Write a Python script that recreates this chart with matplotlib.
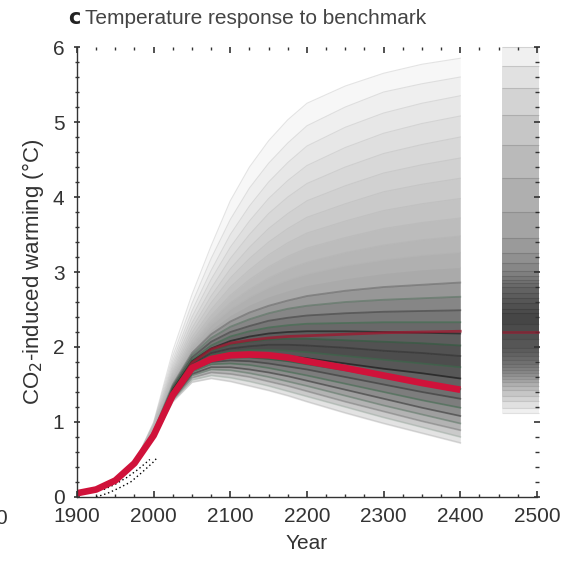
import matplotlib
matplotlib.use("Agg")
import matplotlib.pyplot as plt
from matplotlib.ticker import MultipleLocator

plt.rcParams['font.family'] = ['Liberation Sans', 'DejaVu Sans']

# ---- data -------------------------------------------------------------
# shared historical part of every run
hist_years = [1900, 1925, 1950, 1975]
hist_warming = [0.05, 0.10, 0.22, 0.45]

# projection years for each ensemble member
proj_years = [2000, 2025, 2050, 2075, 2100, 2125, 2150, 2175, 2200,
              2250, 2300, 2350, 2400]

# high-sensitivity members (faint part of the fan)
high_members = [
    [1.00, 1.95, 2.70, 3.35, 3.95, 4.40, 4.75, 5.03, 5.25, 5.48, 5.65, 5.77, 5.85],
    [0.99, 1.88, 2.58, 3.18, 3.70, 4.12, 4.45, 4.72, 4.95, 5.20, 5.40, 5.51, 5.60],
    [0.98, 1.82, 2.48, 3.02, 3.50, 3.88, 4.20, 4.46, 4.68, 4.93, 5.12, 5.25, 5.35],
    [0.97, 1.77, 2.40, 2.90, 3.33, 3.68, 3.98, 4.22, 4.42, 4.66, 4.85, 4.98, 5.08],
    [0.96, 1.73, 2.32, 2.78, 3.18, 3.50, 3.78, 4.00, 4.18, 4.40, 4.58, 4.70, 4.80],
    [0.95, 1.69, 2.25, 2.68, 3.04, 3.33, 3.58, 3.78, 3.95, 4.15, 4.32, 4.43, 4.52],
    [0.94, 1.66, 2.19, 2.59, 2.92, 3.18, 3.40, 3.58, 3.73, 3.91, 4.07, 4.17, 4.25],
    [0.93, 1.63, 2.13, 2.50, 2.80, 3.03, 3.23, 3.39, 3.52, 3.68, 3.82, 3.91, 3.98],
    [0.92, 1.60, 2.08, 2.42, 2.69, 2.90, 3.07, 3.21, 3.32, 3.46, 3.58, 3.66, 3.72],
    [0.91, 1.57, 2.03, 2.35, 2.59, 2.77, 2.92, 3.04, 3.13, 3.26, 3.36, 3.43, 3.48],
    [0.90, 1.55, 1.99, 2.29, 2.50, 2.66, 2.79, 2.89, 2.97, 3.08, 3.16, 3.22, 3.26],
    [0.89, 1.52, 1.95, 2.23, 2.42, 2.56, 2.67, 2.75, 2.82, 2.91, 2.98, 3.03, 3.06],
]

# central members (dense dark core of the fan)
core_members = [
    [0.88, 1.50, 1.92, 2.17, 2.34, 2.46, 2.55, 2.62, 2.68, 2.75, 2.80, 2.83, 2.86],
    [0.87, 1.48, 1.89, 2.12, 2.27, 2.37, 2.45, 2.51, 2.55, 2.60, 2.63, 2.65, 2.67],
    [0.86, 1.46, 1.86, 2.07, 2.20, 2.28, 2.35, 2.39, 2.42, 2.45, 2.47, 2.48, 2.49],
    [0.85, 1.44, 1.83, 2.02, 2.14, 2.21, 2.26, 2.29, 2.31, 2.32, 2.33, 2.33, 2.33],
    [0.85, 1.43, 1.81, 1.98, 2.08, 2.14, 2.18, 2.20, 2.21, 2.21, 2.20, 2.19, 2.18],
    [0.84, 1.41, 1.79, 1.95, 2.03, 2.07, 2.10, 2.11, 2.11, 2.09, 2.07, 2.05, 2.02],
    [0.84, 1.40, 1.77, 1.92, 1.98, 2.01, 2.03, 2.03, 2.02, 1.99, 1.95, 1.92, 1.88],
    [0.83, 1.39, 1.75, 1.89, 1.94, 1.96, 1.96, 1.95, 1.93, 1.88, 1.83, 1.78, 1.73],
    [0.82, 1.37, 1.73, 1.86, 1.90, 1.91, 1.90, 1.88, 1.85, 1.78, 1.71, 1.65, 1.58],
    [0.82, 1.36, 1.71, 1.83, 1.86, 1.86, 1.84, 1.81, 1.77, 1.69, 1.60, 1.52, 1.44],
    [0.81, 1.35, 1.69, 1.80, 1.82, 1.81, 1.78, 1.74, 1.70, 1.60, 1.50, 1.40, 1.31],
    [0.81, 1.34, 1.67, 1.77, 1.78, 1.76, 1.72, 1.67, 1.62, 1.51, 1.40, 1.29, 1.19],
    [0.80, 1.32, 1.64, 1.73, 1.73, 1.70, 1.66, 1.61, 1.55, 1.43, 1.31, 1.19, 1.08],
    [0.80, 1.31, 1.62, 1.70, 1.69, 1.65, 1.60, 1.54, 1.48, 1.35, 1.22, 1.10, 0.98],
    [0.79, 1.30, 1.59, 1.66, 1.64, 1.60, 1.54, 1.48, 1.41, 1.27, 1.14, 1.01, 0.89],
    [0.79, 1.29, 1.56, 1.62, 1.59, 1.54, 1.48, 1.41, 1.34, 1.20, 1.06, 0.93, 0.80],
    [0.78, 1.27, 1.53, 1.58, 1.54, 1.48, 1.42, 1.35, 1.27, 1.12, 0.98, 0.85, 0.72],
]
median_index = 6   # core member used as the ensemble centre

# benchmark run and an alternative best-fit run
benchmark = [0.82, 1.36, 1.72, 1.84, 1.89, 1.90, 1.89, 1.86, 1.81,
             1.72, 1.62, 1.52, 1.43]
alt_run = [0.83, 1.38, 1.79, 1.97, 2.05, 2.09, 2.12, 2.14, 2.15,
           2.17, 2.19, 2.20, 2.21]

# observation-based estimates (dotted)
obs_years = [1925, 1940, 1955, 1970, 1985, 2000, 2005]
obs_a = [0.00, 0.05, 0.12, 0.20, 0.33, 0.47, 0.53]
obs_b_years = [1935, 1950, 1965, 1980, 1995]
obs_b = [0.10, 0.17, 0.26, 0.37, 0.50]

# equilibrium warming of the ensemble (side strip)
eq_upper = [6.0, 5.75, 5.45, 5.1, 4.7, 4.25, 3.8, 3.45, 3.25, 3.12, 3.02,
            2.95, 2.9, 2.85, 2.8, 2.72, 2.65, 2.58, 2.5, 2.45]
eq_lower = [1.12, 1.18, 1.28, 1.35, 1.42, 1.48, 1.53, 1.57, 1.61, 1.65,
            1.69, 1.73, 1.77, 1.83, 1.88, 1.93, 1.98, 2.1, 2.2, 2.3]
eq_centre = 2.4
eq_alt = 2.2
strip_years = [2455, 2503]

x_ticks = [1900, 2000, 2100, 2200, 2300, 2400, 2500]
y_ticks = [0, 1, 2, 3, 4, 5, 6]

# ---- figure -----------------------------------------------------------
fig = plt.figure(figsize=(5.78, 5.61), dpi=100)
ax = fig.add_axes([0.1332, 0.1141, 0.7958, 0.8021])

years = hist_years + proj_years


def full(member):
    return hist_warming + list(member)


centre = full(core_members[median_index])

# soft density shading: each member filled toward the ensemble centre
for m in high_members:
    ax.fill_between(years, full(m), centre, color='k', alpha=0.03, lw=0)
for m in core_members:
    ax.fill_between(years, full(m), centre, color='k', alpha=0.11, lw=0)

# individual member lines, fading toward the edges of the core
for m in high_members:
    ax.plot(years, full(m), color='#b0b0b0', lw=0.8, alpha=0.35,
            solid_joinstyle='round')
core_colors = ['#111111', '#2d5a3c', '#333333', '#3b6b4b']
core_alpha = [0.25, 0.35, 0.5, 0.6, 0.6, 0.6, 0.6, 0.6, 0.6,
              0.6, 0.55, 0.5, 0.4, 0.3, 0.22, 0.15, 0.1]
for i, m in enumerate(core_members):
    ax.plot(years, full(m), color=core_colors[i % 4], lw=1.3,
            alpha=core_alpha[i], solid_joinstyle='round')

# observations
ax.plot(obs_years, obs_a, color='k', lw=1.0, ls=(0, (1, 2)))
ax.plot(obs_b_years, obs_b, color='k', lw=1.0, ls=(0, (1, 2)))

# highlighted runs
ax.plot(years, full(alt_run), color='#a0162e', lw=2.0, alpha=0.75,
        solid_joinstyle='round')
ax.plot(years, full(benchmark), color='#d0123a', lw=4.8,
        solid_capstyle='butt', solid_joinstyle='round')

# equilibrium strip
for v in eq_upper:
    ax.fill_between(strip_years, [v, v], [eq_centre, eq_centre],
                    color='k', alpha=0.06, lw=0, clip_on=False)
for v in eq_lower:
    ax.fill_between(strip_years, [v, v], [eq_centre, eq_centre],
                    color='k', alpha=0.06, lw=0, clip_on=False)
ax.hlines(eq_upper + eq_lower, strip_years[0], strip_years[1],
          colors='k', lw=0.8, alpha=0.12, clip_on=False)
ax.hlines([eq_alt], strip_years[0], strip_years[1], colors='#a0162e',
          lw=2.0, alpha=0.6, clip_on=False)

# ---- axes styling -------------------------------------------------------
ax.set_xlim(1900, 2500)
ax.set_ylim(0, 6)
ax.set_xticks(x_ticks)
ax.set_yticks(y_ticks)
ax.xaxis.set_minor_locator(MultipleLocator(25))
ax.yaxis.set_minor_locator(MultipleLocator(0.2))
for side in ('top', 'right'):
    ax.spines[side].set_visible(False)
for side in ('left', 'bottom'):
    ax.spines[side].set_color('#333333')
    ax.spines[side].set_linewidth(1.0)
ax.tick_params(which='both', direction='in', top=True, right=True,
               color='#333333', labelcolor='#333333')
ax.tick_params(which='major', length=4, width=1.2, labelsize=15, pad=7)
ax.tick_params(which='minor', length=2.5, width=1.0)
ax.tick_params(axis='y', which='both', direction='inout')

ax.set_xlabel('Year', fontsize=15, color='#333333', labelpad=6)
ax.set_ylabel('CO$_2$-induced warming (°C)', fontsize=16, color='#333333',
              labelpad=5)

ax.text(-0.02, 1.064, r'$\bf{c}$', transform=ax.transAxes, fontsize=15,
        color='#222222', ha='left', va='center')
ax.text(0.017, 1.064, 'Temperature response to benchmark',
        transform=ax.transAxes, fontsize=15, color='#444444',
        ha='left', va='center')

# edge of the neighbouring panel's axis label
fig.text(0.002, 0.076, '0', fontsize=15, color='#333333',
         ha='center', va='center')

fig.savefig('out.png', dpi=100, facecolor='white')
